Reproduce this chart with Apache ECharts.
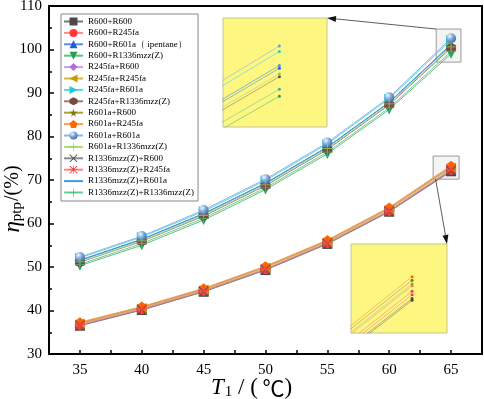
<!DOCTYPE html>
<html>
<head>
<meta charset="utf-8">
<script src="https://cdn.jsdelivr.net/npm/echarts@6/dist/echarts.min.js"></script>
<style>
  html, body { margin: 0; padding: 0; background: #fff; }
  #main { width: 484px; height: 399px; }
</style>
</head>
<body>
<div id="main"></div>
<script>
const temps = [35, 40, 45, 50, 55, 60, 65];

// upper group
const r601a_r601a = [52.3, 57.1, 63.1, 70.2, 78.6, 89.0, 102.6];
const r245fa_r601a = [52.1, 56.9, 62.8, 69.9, 78.3, 88.7, 102.2];
const r1336_r601a = [51.6, 56.4, 62.3, 69.3, 77.6, 87.9, 101.2];
const r600_r601a = [51.5, 56.3, 62.2, 69.2, 77.5, 87.8, 101.0];
const r601a_r1336 = [51.2, 56.0, 61.9, 68.9, 77.2, 87.5, 100.6];
const r245fa_r1336 = [51.1, 55.9, 61.7, 68.7, 77.0, 87.3, 100.4];
const r1336_r1336 = [50.6, 55.4, 61.2, 68.2, 76.4, 86.6, 99.5];
const r600_r1336 = [50.3, 55.0, 60.8, 67.8, 76.0, 86.2, 99.0];

// lower group
const r601a_r245fa = [37.3, 40.9, 45.1, 50.2, 56.2, 63.7, 73.3];
const r601a_r600 = [37.2, 40.8, 45.0, 50.1, 56.1, 63.6, 73.1];
const r245fa_r600 = [37.1, 40.7, 44.9, 50.0, 55.9, 63.4, 72.9];
const r245fa_r245fa = [37.0, 40.6, 44.8, 49.9, 55.8, 63.3, 72.8];
const r1336_r245fa = [36.8, 40.4, 44.6, 49.6, 55.6, 63.0, 72.5];
const r600_r245fa = [36.7, 40.3, 44.5, 49.5, 55.5, 62.9, 72.3];
const r1336_r600 = [36.6, 40.2, 44.4, 49.4, 55.4, 62.8, 72.1];
const r600_r600 = [36.5, 40.1, 44.3, 49.3, 55.3, 62.7, 72.0];

const yTicks = [30, 40, 50, 60, 70, 80, 90, 100, 110];
const xTicks = [35, 40, 45, 50, 55, 60, 65];

// zoom boxes (data ranges)
const zoomUpper = { x: [63.8, 65.8], y: [97.1, 104.7] };
const zoomLower = { x: [63.55, 65.65], y: [70.2, 75.5] };
// inset ranges
const insetUpper = { x: [64.1, 65.76], y: [96.8, 104.6] };
const insetLower = { x: [63.6, 65.8], y: [70.2, 75.1] };

const STAR = 'path://M50,0 L61,35 L98,35 L68,57 L79,91 L50,70 L21,91 L32,57 L2,35 L39,35 Z';
const PENTA = 'path://M50,0 L98,35 L79,91 L21,91 L2,35 Z';
const HEXA = 'path://M50,0 L93,25 L93,75 L50,100 L7,75 L7,25 Z';
const CROSS = 'path://M0,8 L8,0 L50,42 L92,0 L100,8 L58,50 L100,92 L92,100 L50,58 L8,100 L0,92 L42,50 Z';
const PLUS = 'path://M46,0 L54,0 L54,46 L100,46 L100,54 L54,54 L54,100 L46,100 L46,54 L0,54 L0,46 L46,46 Z';
const ASTER = 'path://M0,8 L8,0 L50,42 L92,0 L100,8 L58,50 L100,92 L92,100 L50,58 L8,100 L0,92 L42,50 Z M46,0 L54,0 L54,100 L46,100 Z M0,46 L100,46 L100,54 L0,54 Z';

const sphere = new echarts.graphic.RadialGradient(0.35, 0.3, 0.75, [
  { offset: 0, color: '#f2f8ff' },
  { offset: 0.5, color: '#7aa6d8' },
  { offset: 1, color: '#3b6aa8' }
]);

// legend order
const defs = [
  { name: 'R600+R600', data: r600_r600, color: '#4a4a4a', line: '#777777', symbol: 'rect', group: 'low' },
  { name: 'R600+R245fa', data: r600_r245fa, color: '#ff3838', line: '#ff8a8a', symbol: 'circle', group: 'low' },
  { name: 'R600+R601a（ ipentane）', data: r600_r601a, color: '#1f5fd8', line: '#5b8ee8', symbol: 'triangle', group: 'up' },
  { name: 'R600+R1336mzz(Z)', data: r600_r1336, color: '#23a04e', line: '#5fc07f', symbol: 'triangle', rotate: 180, group: 'up' },
  { name: 'R245fa+R600', data: r245fa_r600, color: '#b56be0', line: '#cf9cec', symbol: 'diamond', group: 'low' },
  { name: 'R245fa+R245fa', data: r245fa_r245fa, color: '#c89b00', line: '#d8b640', symbol: 'triangle', rotate: 90, group: 'low' },
  { name: 'R245fa+R601a', data: r245fa_r601a, color: '#1fc9d9', line: '#5ad8e4', symbol: 'triangle', rotate: -90, group: 'up' },
  { name: 'R245fa+R1336mzz(Z)', data: r245fa_r1336, color: '#7a4a42', line: '#a07870', symbol: HEXA, group: 'up' },
  { name: 'R601a+R600', data: r601a_r600, color: '#7f7a00', line: '#a8a340', symbol: STAR, group: 'low' },
  { name: 'R601a+R245fa', data: r601a_r245fa, color: '#ff6a00', line: '#ff9a50', symbol: PENTA, group: 'low' },
  { name: 'R601a+R601a', data: r601a_r601a, color: sphere, dot: '#6a9ad0', line: '#8db6e2', symbol: 'circle', group: 'up' },
  { name: 'R601a+R1336mzz(Z)', data: r601a_r1336, color: '#8fd14f', line: '#a8dc78', symbol: PLUS, group: 'up' },
  { name: 'R1336mzz(Z)+R600', data: r1336_r600, color: '#4d4d4d', line: '#8a8a8a', symbol: CROSS, group: 'low' },
  { name: 'R1336mzz(Z)+R245fa', data: r1336_r245fa, color: '#f04444', line: '#f58a8a', symbol: ASTER, group: 'low' },
  { name: 'R1336mzz(Z)+R601a', data: r1336_r601a, color: '#3d9be0', line: '#3d9be0', symbol: 'none', group: 'up' },
  { name: 'R1336mzz(Z)+R1336mzz(Z)', data: r1336_r1336, color: '#3cb878', line: '#6fcc98', symbol: PLUS, group: 'up' }
];

const pairs = arr => temps.map((t, i) => [t, arr[i]]);

const series = [];
defs.forEach(d => {
  const noMark = d.symbol === 'none';
  series.push({
    name: d.name,
    type: 'line',
    xAxisIndex: 0,
    yAxisIndex: 0,
    data: pairs(d.data),
    symbol: noMark ? 'circle' : d.symbol,
    symbolSize: noMark ? 0 : 10,
    symbolRotate: d.rotate || 0,
    showSymbol: !noMark,
    itemStyle: { color: noMark ? 'rgba(0,0,0,0)' : d.color },
    lineStyle: { color: d.line, width: 1 },
    emphasis: { disabled: true },
    z: 3
  });
});

// inset copies
defs.forEach(d => {
  const idx = d.group === 'up' ? 1 : 2;
  series.push({
    name: d.name,
    type: 'line',
    xAxisIndex: idx,
    yAxisIndex: idx,
    data: pairs(d.data),
    symbol: 'circle',
    symbolSize: 3,
    showSymbol: true,
    itemStyle: { color: d.dot || d.color },
    lineStyle: { color: d.line, width: 0.8, opacity: 0.8 },
    clip: true,
    silent: true,
    emphasis: { disabled: true },
    z: 5
  });
});

// zoom rectangles as mark areas on the main grid
series.push({
  type: 'line',
  xAxisIndex: 0,
  yAxisIndex: 0,
  data: [],
  silent: true,
  markArea: {
    silent: true,
    itemStyle: { color: 'rgba(230,230,230,0.45)', borderColor: '#9a9a9a', borderWidth: 1 },
    data: [
      [{ coord: [zoomUpper.x[0], zoomUpper.y[1]] }, { coord: [zoomUpper.x[1], zoomUpper.y[0]] }],
      [{ coord: [zoomLower.x[0], zoomLower.y[1]] }, { coord: [zoomLower.x[1], zoomLower.y[0]] }]
    ]
  },
  z: 2
});

const serif = 'Liberation Serif, Times New Roman, serif';

const insetAxis = (range, grid) => ({
  type: 'value', gridIndex: grid, min: range[0], max: range[1],
  interval: range[1] - range[0],
  show: false, splitLine: { show: false }
});

const option = {
  animation: false,
  backgroundColor: '#fff',
  grid: [
    { left: 49, top: 6, right: 2, bottom: 45, outerBoundsMode: 'none', containLabel: false, show: true, borderColor: '#000', borderWidth: 2, backgroundColor: 'transparent' },
    { left: 223, top: 18, width: 104, height: 109, outerBoundsMode: 'none', containLabel: false, show: true, backgroundColor: '#fdf680', borderColor: '#c8c490', borderWidth: 1, z: 4 },
    { left: 351, top: 244, width: 96, height: 89, outerBoundsMode: 'none', containLabel: false, show: true, backgroundColor: '#fdf680', borderColor: '#c8c490', borderWidth: 1, z: 4 }
  ],
  legend: {
    orient: 'vertical',
    left: 61,
    top: 14,
    padding: [2, 4, 3, 2],
    itemGap: 0.4,
    itemWidth: 19,
    itemHeight: 10,
    backgroundColor: '#fff',
    borderColor: '#888',
    borderWidth: 1,
    selectedMode: false,
    textStyle: { fontFamily: serif, fontSize: 9, color: '#000', lineHeight: 11 },
    data: defs.map(d => d.name)
  },
  xAxis: [
    {
      type: 'value', gridIndex: 0, min: 32.5, max: 67.5, interval: 2.5,
      name: '{i|T}{s|1} / (\u2009{c|\u2103})',
      nameLocation: 'middle', nameGap: 21, nameMoveOverlap: false,
      nameTextStyle: {
        fontFamily: serif, fontSize: 23, color: '#000', padding: [0, 28, 0, 0],
        rich: {
          i: { fontFamily: serif, fontStyle: 'italic', fontSize: 23 },
          s: { fontFamily: serif, fontSize: 15, padding: [10, 0, 0, 1] },
          c: { fontFamily: 'Noto Sans CJK SC', fontSize: 22 }
        }
      },
      axisLine: { lineStyle: { color: '#000', width: 2 } },
      axisTick: { inside: true, length: 4, lineStyle: { color: '#000', width: 1.5 } },
      axisLabel: {
        fontFamily: serif, fontSize: 15, color: '#000', margin: 9,
        formatter: v => (xTicks.indexOf(v) >= 0 ? String(v) : '')
      },
      splitLine: { show: false }
    },
    insetAxis(insetUpper.x, 1),
    insetAxis(insetLower.x, 2)
  ],
  yAxis: [
    {
      type: 'value', gridIndex: 0, min: 30, max: 110, interval: 10,
      name: '{i|\u03b7}{s|ptp}/(%)',
      nameLocation: 'middle', nameRotate: 90, nameGap: 24, nameMoveOverlap: false,
      nameTextStyle: {
        fontFamily: serif, fontSize: 20, color: '#000', padding: [0, 38, 0, 0],
        rich: {
          i: { fontFamily: serif, fontStyle: 'italic', fontSize: 23 },
          s: { fontFamily: serif, fontSize: 15, padding: [10, 1, 0, 0] }
        }
      },
      axisLine: { show: true, lineStyle: { color: '#000', width: 2 } },
      axisTick: { inside: true, length: 5, lineStyle: { color: '#000', width: 1.5 } },
      minorTick: { show: true, splitNumber: 2, length: 3, lineStyle: { color: '#000', width: 1.5 } },
      axisLabel: {
        fontFamily: serif, fontSize: 15, color: '#000', margin: 7,
        formatter: v => (yTicks.indexOf(v) >= 0 ? String(v) : '')
      },
      splitLine: { show: false }
    },
    insetAxis(insetUpper.y, 1),
    insetAxis(insetLower.y, 2)
  ],
  series: series
};

const chart = echarts.init(document.getElementById('main'), null, { renderer: 'canvas' });
chart.setOption(option);

// arrows from zoom rectangles to inset boxes
function arrow(from, to) {
  const dx = to[0] - from[0], dy = to[1] - from[1];
  const len = Math.sqrt(dx * dx + dy * dy);
  const ux = dx / len, uy = dy / len;
  const hl = 9, hw = 3;
  const bx = to[0] - ux * hl, by = to[1] - uy * hl;
  return [
    { type: 'line', z: 20, shape: { x1: from[0], y1: from[1], x2: bx, y2: by }, style: { stroke: '#333', lineWidth: 0.8 } },
    { type: 'polygon', z: 20, shape: { points: [to, [bx - uy * hw, by + ux * hw], [bx + uy * hw, by - ux * hw]] }, style: { fill: '#111' } }
  ];
}

const g1 = option.grid[1], g2 = option.grid[2];
const upStart = chart.convertToPixel({ gridIndex: 0 }, [zoomUpper.x[0], zoomUpper.y[1]]);
const lowStart = chart.convertToPixel({ gridIndex: 0 }, [zoomLower.x[0] + 0.2, zoomLower.y[0]]);
chart.setOption({
  graphic: arrow(upStart, [g1.left + g1.width, g1.top]).concat(
    arrow(lowStart, [g2.left + g2.width, g2.top]))
});
</script>
</body>
</html>
